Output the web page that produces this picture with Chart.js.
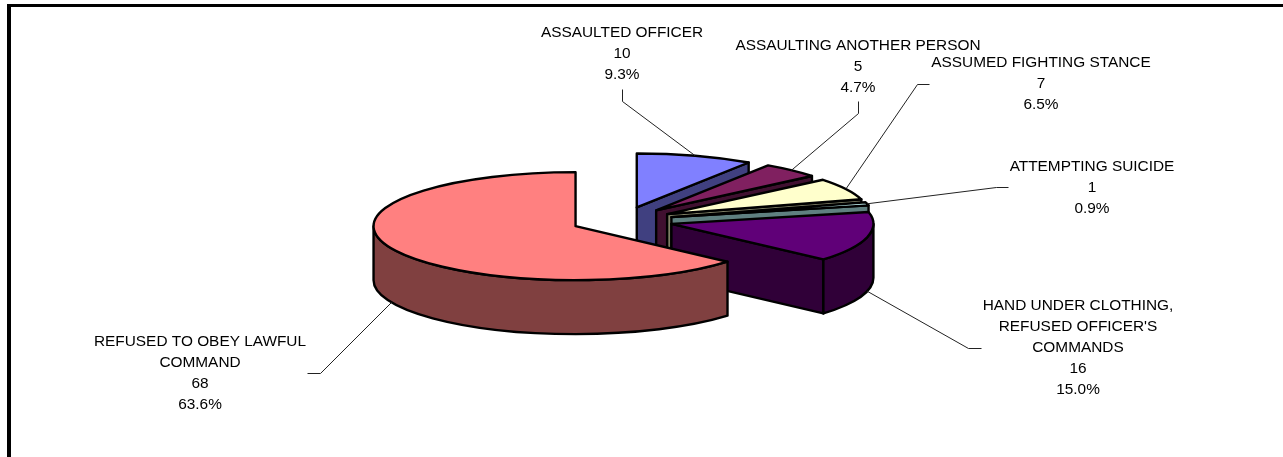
<!DOCTYPE html>
<html>
<head>
<meta charset="utf-8">
<title>Use of force</title>
<script src="https://cdn.jsdelivr.net/npm/chart.js@4"></script>
<style>
  html, body { margin: 0; padding: 0; background: #fff; overflow: hidden; }
  canvas { display: block; }
</style>
</head>
<body>
<canvas id="pie" width="1283" height="457"></canvas>
<script>
// data
const categories = [
  'ASSAULTED OFFICER',
  'ASSAULTING ANOTHER PERSON',
  'ASSUMED FIGHTING STANCE',
  'ATTEMPTING SUICIDE',
  "HAND UNDER CLOTHING, REFUSED OFFICER'S COMMANDS",
  'REFUSED TO OBEY LAWFUL COMMAND'
];
const counts = [10, 5, 7, 1, 16, 68];

// how the long names wrap in the picture
const wrappedNames = [
  ['ASSAULTED OFFICER'],
  ['ASSAULTING ANOTHER PERSON'],
  ['ASSUMED FIGHTING STANCE'],
  ['ATTEMPTING SUICIDE'],
  ['HAND UNDER CLOTHING,', "REFUSED OFFICER'S", 'COMMANDS'],
  ['REFUSED TO OBEY LAWFUL', 'COMMAND']
];

// colours
const topColors = ['#8080ff', '#802060', '#ffffcc', '#ccffff', '#600078', '#ff8080'];
const wallColors = ['#404080', '#401030', '#808066', '#5f8080', '#300038', '#804040'];

// label layout: centre x, first line centre y
const labelX = [622, 858, 1041, 1092, 1078, 200];
const labelY = [33, 46, 63, 167, 306, 342];
const lineHeight = 21;
// leader line: elbow and end, the start comes from the slice
const leaderElbow = [[622, 101], [858, 113], [917, 84], [996, 187], [968, 348], [320, 373]];
const leaderEnd = [[622, 89], [858, 101], [929, 84], [1008, 187], [981, 348], [307, 373]];

// fake 3d
const tilt = 54 / 202;
const depth = 54;
const explode = 51;
const outline = 2.4;

function apex(arc) {
  const mid = (arc.startAngle + arc.endAngle) / 2;
  return {
    x: arc.x + Math.cos(mid) * explode,
    y: arc.y + Math.sin(mid) * explode * tilt
  };
}

function rimPoint(arc, angle) {
  const c = apex(arc);
  return {
    x: c.x + Math.cos(angle) * arc.outerRadius,
    y: c.y + Math.sin(angle) * arc.outerRadius * tilt
  };
}

function radialWall(ctx, arc, angle) {
  const c = apex(arc);
  const p = rimPoint(arc, angle);
  ctx.beginPath();
  ctx.moveTo(c.x, c.y);
  ctx.lineTo(p.x, p.y);
  ctx.lineTo(p.x, p.y + depth);
  ctx.lineTo(c.x, c.y + depth);
  ctx.closePath();
  ctx.fill();
  ctx.stroke();
}

function drawWalls(ctx, arc) {
  const c = apex(arc);
  const r = arc.outerRadius;
  const a0 = arc.startAngle;
  const a1 = arc.endAngle;

  if (Math.cos(a0) < 0) radialWall(ctx, arc, a0);
  if (Math.cos(a1) > 0) radialWall(ctx, arc, a1);

  // only the front half of the rim can be seen
  const from = Math.max(a0, 0);
  const to = Math.min(a1, Math.PI);
  if (to > from) {
    ctx.beginPath();
    ctx.ellipse(c.x, c.y, r, r * tilt, 0, from, to);
    ctx.ellipse(c.x, c.y + depth, r, r * tilt, 0, to, from, true);
    ctx.closePath();
    ctx.fill();
    ctx.stroke();
  }
}

function strokeTop(ctx, arc) {
  const c = apex(arc);
  const r = arc.outerRadius;
  ctx.beginPath();
  ctx.moveTo(c.x, c.y);
  ctx.ellipse(c.x, c.y, r, r * tilt, 0, arc.startAngle, arc.endAngle);
  ctx.closePath();
  ctx.stroke();
}

const pie3d = {
  id: 'pie3d',
  beforeDraw(chart) {
    // frame, the right and bottom sides are cut off in the picture
    const ctx = chart.ctx;
    ctx.save();
    ctx.fillStyle = '#000';
    ctx.fillRect(7, 4, chart.width - 7, 3);
    ctx.fillRect(7, 4, 4, chart.height - 4);
    ctx.restore();
  },
  beforeDatasetDraw(chart, args) {
    const ctx = chart.ctx;
    const arcs = args.meta.data;
    ctx.lineJoin = 'round';
    arcs.forEach((arc, i) => {
      ctx.save();
      ctx.strokeStyle = '#000';
      ctx.lineWidth = outline;
      ctx.fillStyle = wallColors[i];
      drawWalls(ctx, arc);
      ctx.restore();

      // the slice top is the library's own arc, flattened and moved out
      const mid = (arc.startAngle + arc.endAngle) / 2;
      ctx.save();
      ctx.translate(0, arc.y);
      ctx.scale(1, tilt);
      ctx.translate(0, -arc.y);
      ctx.translate(Math.cos(mid) * explode, Math.sin(mid) * explode);
      arc.draw(ctx);
      ctx.restore();

      ctx.save();
      ctx.strokeStyle = '#000';
      ctx.lineWidth = outline;
      strokeTop(ctx, arc);
      ctx.restore();
    });
    return false;
  },
  afterDatasetsDraw(chart) {
    const ctx = chart.ctx;
    const arcs = chart.getDatasetMeta(0).data;
    const total = counts.reduce((a, b) => a + b, 0);

    ctx.save();
    arcs.forEach((arc, i) => {
      const mid = (arc.startAngle + arc.endAngle) / 2;
      const p = rimPoint(arc, mid);
      // leaders of the front slices leave from the bottom of the wall
      if (Math.sin(mid) > 0.1) p.y += depth;

      ctx.strokeStyle = '#222';
      ctx.lineWidth = 1;
      ctx.beginPath();
      ctx.moveTo(p.x, p.y);
      ctx.lineTo(leaderElbow[i][0] + 0.5, leaderElbow[i][1] + 0.5);
      ctx.lineTo(leaderEnd[i][0] + 0.5, leaderEnd[i][1] + 0.5);
      ctx.stroke();

      const lines = wrappedNames[i].concat([String(counts[i]), (counts[i] / total * 100).toFixed(1) + '%']);
      ctx.fillStyle = '#000';
      ctx.font = '15.4px "Liberation Sans", Arial, sans-serif';
      ctx.textAlign = 'center';
      ctx.textBaseline = 'middle';
      lines.forEach((line, n) => {
        ctx.fillText(line, labelX[i], labelY[i] + n * lineHeight);
      });
    });
    ctx.restore();
  }
};

new Chart(document.getElementById('pie'), {
  type: 'pie',
  data: {
    labels: categories,
    datasets: [{
      data: counts,
      backgroundColor: topColors,
      borderWidth: 0
    }]
  },
  options: {
    responsive: false,
    animation: false,
    radius: 202,
    layout: { padding: { right: 39, bottom: 16 } },
    events: [],
    plugins: {
      legend: { display: false },
      tooltip: { enabled: false }
    }
  },
  plugins: [pie3d]
});
</script>
</body>
</html>
